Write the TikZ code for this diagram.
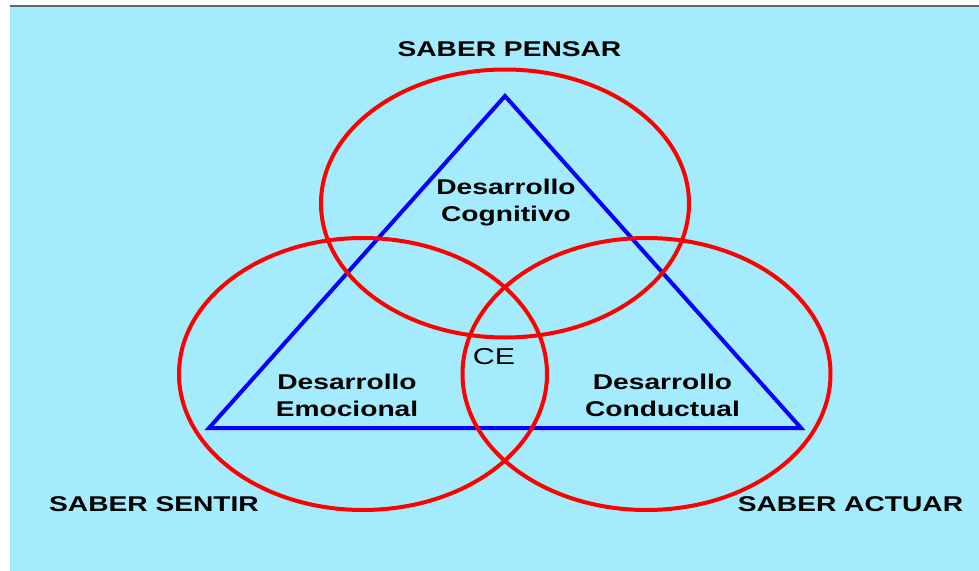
\documentclass[tikz,border=0pt]{standalone}
\usepackage{fontspec}
\setmainfont{Liberation Sans}
\definecolor{skyback}{RGB}{164,236,253}
\definecolor{topline}{RGB}{95,105,108}

\begin{document}
\begin{tikzpicture}[x=0.75pt, y=-0.75pt,
    ring/.style = {draw=red, line width=3pt},
    tri/.style = {draw=blue, line width=3pt, line join=miter},
    sabertxt/.style = {font=\bfseries\fontsize{16}{19}\selectfont, xscale=1.32, inner sep=0pt},
    areatxt/.style = {font=\bfseries\fontsize{16}{20.25}\selectfont, xscale=1.32, inner sep=0pt, align=center}]

    % page and background
    \useasboundingbox (0,0) rectangle (979,571);
    \fill[skyback] (10,6) rectangle (979,571);
    \draw[topline, line width=1.5pt] (10,5.5) -- (979,5.5);

    % triangle of the three developments
    \coordinate (apex) at (505,96);
    \coordinate (lcorner) at (209,428);
    \coordinate (rcorner) at (801,428);
    \draw[tri] (apex) -- (lcorner) -- (rcorner) -- cycle;

    % the three knowledges
    \draw[ring] (505,203.5) ellipse [x radius=138pt, y radius=100.5pt];
    \draw[ring] (363,374) ellipse [x radius=138pt, y radius=102pt];
    \draw[ring] (646.5,374) ellipse [x radius=138pt, y radius=102pt];

    \node[sabertxt] (pensar) at (509.5,49.5) {SABER PENSAR};
    \node[sabertxt] (sentir) at (154,504.5) {SABER SENTIR};
    \node[sabertxt] (actuar) at (850.5,504.5) {SABER ACTUAR};

    \node[areatxt] (cognitivo) at (506,202.5) {Desarrollo\\Cognitivo};
    \node[areatxt] (emocional) at (347,395.5) {Desarrollo\\Emocional};
    \node[areatxt] (conductual) at (662.5,395.5) {Desarrollo\\Conductual};

    \node[font=\fontsize{17.25}{20}\selectfont, xscale=1.32, inner sep=0pt] (ce) at (494,357) {CE};
\end{tikzpicture}
\end{document}
